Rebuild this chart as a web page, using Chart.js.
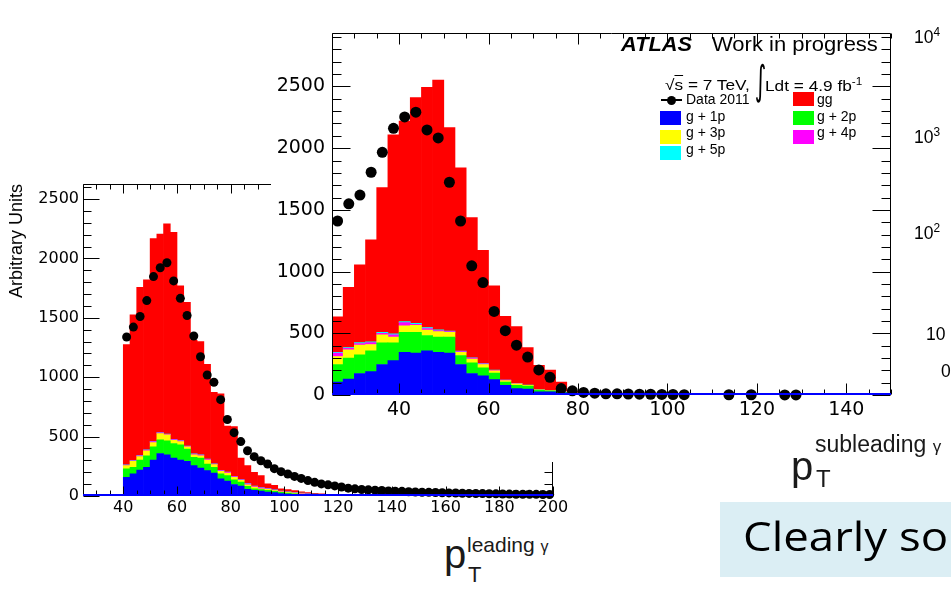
<!DOCTYPE html>
<html><head><meta charset="utf-8">
<script src="https://cdn.jsdelivr.net/npm/chart.js@4.4.0/dist/chart.umd.min.js"></script>
<style>
html,body{margin:0;padding:0;background:#fff;width:951px;height:590px;overflow:hidden;font-family:"Liberation Sans",Arial,sans-serif;}
#wrapL{position:absolute;left:0;top:170px;width:575px;height:350px;}
#wrapR{position:absolute;left:271px;top:15px;width:634px;height:447px;background:#fff;}
.t{position:absolute;white-space:nowrap;color:#000;line-height:1;}
.sx{transform-origin:left center;}
.box{position:absolute;width:21px;height:14px;}
.sup{font-size:0.68em;vertical-align:0.6em;}
</style></head><body>
<div id="wrapL"><canvas id="cL" width="575" height="350"></canvas></div>
<div id="wrapR"><canvas id="cR" width="634" height="447"></canvas></div>

<div class="t" style="left:15.5px;top:241px;font-size:18px;transform:translate(-50%,-50%) rotate(-90deg);">Arbitrary Units</div>

<div class="t" style="left:444px;top:534px;font-size:40px;color:#1a1a1a;">p</div>
<div class="t" style="left:468px;top:564px;font-size:22px;color:#1a1a1a;">T</div>
<div class="t" style="left:467px;top:534px;font-size:21px;color:#1a1a1a;">leading <span style="font-size:16px">γ</span></div>

<div class="t" style="left:791px;top:446px;font-size:40px;color:#1a1a1a;">p</div>
<div class="t" style="left:816px;top:467px;font-size:24px;color:#1a1a1a;">T</div>
<div class="t" style="left:815px;top:433px;font-size:23px;color:#1a1a1a;">subleading <span style="font-size:17px">γ</span></div>

<div class="t sx" style="left:621px;top:34px;font-size:20px;font-weight:bold;font-style:italic;transform:scaleX(1.09);">ATLAS</div>
<div class="t sx" style="left:712px;top:34px;font-size:20px;transform:scaleX(1.1);">Work in progress</div>
<div class="t sx" style="left:665px;top:77px;font-size:15px;transform:scaleX(1.15);">√<span style="text-decoration:overline">s</span> = 7 TeV,</div>
<div class="t" style="left:750px;top:60px;font-size:40px;font-family:'DejaVu Sans';transform:scaleX(0.55);">∫</div>
<div class="t sx" style="left:765px;top:77px;font-size:15px;transform:scaleX(1.15);">Ldt = 4.9 fb<span class="sup">-1</span></div>

<div style="position:absolute;left:661px;top:99px;width:21px;height:2px;background:#000;"></div>
<div style="position:absolute;left:667px;top:95.5px;width:9px;height:9px;border-radius:50%;background:#000;"></div>
<div class="t" style="left:686px;top:92px;font-size:14px;">Data 2011</div>
<div class="box" style="left:793px;top:92px;background:#ff0000;"></div>
<div class="t" style="left:817px;top:92px;font-size:14px;">gg</div>
<div class="box" style="left:660px;top:111px;background:#0000ff;"></div>
<div class="t" style="left:686px;top:108.5px;font-size:14px;">g + 1p</div>
<div class="box" style="left:793px;top:111px;background:#00ff00;"></div>
<div class="t" style="left:817px;top:108.5px;font-size:14px;">g + 2p</div>
<div class="box" style="left:660px;top:129.5px;background:#ffff00;"></div>
<div class="t" style="left:686px;top:125px;font-size:14px;">g + 3p</div>
<div class="box" style="left:793px;top:129.5px;background:#ff00ff;"></div>
<div class="t" style="left:817px;top:125px;font-size:14px;">g + 4p</div>
<div class="box" style="left:660px;top:146px;background:#00ffff;"></div>
<div class="t" style="left:686px;top:141.5px;font-size:14px;">g + 5p</div>

<div class="t" style="left:914px;top:27px;font-size:17.5px;">10<span class="sup">4</span></div>
<div class="t" style="left:914px;top:126.5px;font-size:17.5px;">10<span class="sup">3</span></div>
<div class="t" style="left:914px;top:222.5px;font-size:17.5px;">10<span class="sup">2</span></div>
<div class="t" style="left:926px;top:325.5px;font-size:17.5px;">10</div>
<div class="t" style="left:941px;top:362.5px;font-size:17.5px;">0</div>

<div style="position:absolute;left:720px;top:502px;width:240px;height:75px;background:#dbeef4;"></div>
<div class="t sx" style="left:743px;top:516px;font-size:40px;font-family:'Open Sans';transform:scaleX(1.14);">Clearly so</div>

<script>
// ---------- leading photon (left histogram) ----------
const leadBins = [41.25,43.75,46.25,48.75,51.25,53.75,56.25,58.75,61.25,63.75,66.25,68.75,71.25,73.75,76.25,78.75,81.25,83.75,86.25,88.75,91.25,93.75,96.25,98.75,101.25,103.75,106.25,108.75,111.25,113.75,116.25,118.75,121.25,123.75,126.25,128.75];
const leadG1p = [158,186,219,242,303,358,347,319,303,292,256,236,214,192,144,125,97,83,56,47,42,33,28,20,16,13,10,8,6,5,4,3,2,2,1,1];
const leadG2p = [70,56,84,97,111,114,117,123,128,102,69,83,55,50,42,47,39,34,25,14,11,14,11,10,8,6,5,4,4,3,2,2,2,1,1,1];
const leadG3p = [28,50,28,42,36,53,50,27,27,20,22,20,34,22,22,22,22,14,13,14,8,9,7,6,6,5,4,3,2,2,2,1,1,1,1,0];
const leadG4p = [5,5,8,5,8,6,5,6,6,5,6,5,5,5,6,6,6,5,9,6,8,5,4,4,3,3,3,2,2,1,1,1,1,1,0,0];
const leadG5p = [2,2,2,2,2,2,2,2,2,2,2,2,2,2,2,2,2,2,2,2,2,2,2,2,2,2,2,2,2,2,2,1,1,1,1,1];
const leadGG  = [1012,1226,1415,1432,1707,1673,1771,1743,1304,1210,956,954,798,601,644,387,419,181,151,117,101,40,37,19,20,16,12,9,6,5,3,3,2,1,1,1];
const leadDataX = [41.25,43.75,46.25,48.75,51.25,53.75,56.25,58.75,61.25,63.75,66.25,68.75,71.25,73.75,76.25,78.75,81.25,83.75,86.25,88.75,91.25,93.75,96.25,98.75,101.25,103.75,106.25,108.75,111.25,113.75,116.25,118.75,121.25,123.75,126.25,128.75,131.25,133.75,136.25,138.75,141.25,143.75,146.25,148.75,151.25,153.75,156.25,158.75,161.25,163.75,166.25,168.75,171.25,173.75,176.25,178.75,181.25,183.75,186.25,188.75,191.25,193.75,196.25,198.75];
const leadDataY = [1339,1422,1511,1645,1847,1922,1964,1811,1664,1520,1347,1172,1019,958,811,644,533,458,381,331,297,269,230,205,185,165,148,130,115,102,94,85,76,66,60,55,52,49,46,43,41,39,36,34,32,31,29,27,26,25,23,22,21,20,19,18,17,16,15,15,14,14,13,13];
const leadXTicks = [40,60,80,100,120,140,160,180,200];
const leadYTicks = [0,500,1000,1500,2000,2500];

// ---------- subleading photon (right histogram) ----------
const subBins = [26.25,28.75,31.25,33.75,36.25,38.75,41.25,43.75,46.25,48.75,51.25,53.75,56.25,58.75,61.25,63.75,66.25,68.75,71.25,73.75,76.25,78.75,81.25,83.75];
const subG1p = [104,130,174,190,247,279,346,339,357,346,339,247,174,156,125,78,52,47,26,26,18,10,5,3];
const subG2p = [143,170,152,167,175,143,162,169,125,123,130,73,86,65,52,26,26,26,13,8,3,3,1,1];
const subG3p = [65,65,78,52,65,47,52,57,44,44,39,26,32,26,18,13,13,5,3,2,5,2,1,0];
const subG4p = [27,13,13,16,13,18,26,8,13,8,5,6,8,6,5,3,2,1,1,1,1,0,0,0];
const subG5p = [7,7,7,5,8,8,8,8,8,8,5,3,2,2,2,1,1,1,0,0,0,0,0,0];
const subGG  = [287,487,631,828,1172,1614,1625,1828,1945,2023,1649,1486,1135,917,683,517,461,305,197,164,77,15,5,2];
const subDataX = [26.25,28.75,31.25,33.75,36.25,38.75,41.25,43.75,46.25,48.75,51.25,53.75,56.25,58.75,61.25,63.75,66.25,68.75,71.25,73.75,76.25,78.75,81.25,83.75,86.25,88.75,91.25,93.75,96.25,98.75,101.25,103.75,113.75,118.75,126.25,128.75];
const subDataY = [1410,1549,1620,1805,1966,2161,2253,2292,2148,2083,1724,1410,1047,911,677,521,404,307,203,143,52,34,21,15,10,10,8,7,6,5,4,3,2,2,1,1];
const subXTicks = [40,60,80,100,120,140];
const subYTicks = [0,500,1000,1500,2000,2500];

const compColors = ['#0000ff','#00ff00','#ffff00','#ff00ff','#00ffff','#ff0000'];
const compNames = ['g + 1p','g + 2p','g + 3p','g + 4p','g + 5p','gg'];

Chart.defaults.font.family = "'DejaVu Sans', 'Liberation Sans', sans-serif";
Chart.defaults.color = '#000';

const rootFrame = {
  id: 'rootFrame',
  afterDatasetsDraw(chart, args, o) {
    const {ctx, chartArea: a, scales: {x, y}} = chart;
    ctx.save();
    ctx.strokeStyle = '#000'; ctx.lineWidth = 1;
    const L = Math.round(a.left) + 0.5, R = Math.round(a.right) - 0.5, T = Math.round(a.top) + 0.5, B = Math.round(a.bottom) - 0.5;
    ctx.beginPath();
    ctx.moveTo(L, B); ctx.lineTo(L, T); ctx.lineTo(R, T); ctx.lineTo(R, B);
    for (let v = x.min; v <= x.max + 1e-6; v += o.xMinor) {
      const px = Math.round(x.getPixelForValue(v)) + 0.5;
      const len = (Math.abs(v % o.xMajor) < 1e-6) ? o.xMajorLen : o.xMinorLen;
      ctx.moveTo(px, B); ctx.lineTo(px, B - len);
      ctx.moveTo(px, T); ctx.lineTo(px, T + len);
    }
    for (let v = 0; v <= y.max + 1e-6; v += o.yMinor) {
      const py = Math.round(y.getPixelForValue(v)) + 0.5;
      const len = (v % o.yMajor === 0) ? o.yMajorLen : o.yMinorLen;
      ctx.moveTo(L, py); ctx.lineTo(L + len, py);
      ctx.moveTo(R, py); ctx.lineTo(R - len, py);
    }
    ctx.stroke();
    ctx.strokeStyle = '#0000ff'; ctx.lineWidth = 2;
    ctx.beginPath(); ctx.moveTo(a.left, a.bottom - 1); ctx.lineTo(a.right, a.bottom - 1); ctx.stroke();
    ctx.restore();
  }
};

function makeChart(id, c) {
  const comps = [c.g1p, c.g2p, c.g3p, c.g4p, c.g5p, c.gg];
  const datasets = comps.map((vals, k) => ({
    type: 'bar', label: compNames[k],
    data: c.bins.map((b, i) => ({x: b, y: vals[i]})),
    backgroundColor: compColors[k], borderWidth: 0, stack: 'mc',
    barPercentage: 1, categoryPercentage: 1, order: 1
  }));
  datasets.push({
    type: 'scatter', label: 'Data 2011',
    data: c.dataX.map((xv, i) => ({x: xv, y: c.dataY[i]})),
    backgroundColor: '#000', borderWidth: 0, pointRadius: c.r, stack: 'data', order: 0, clip: false
  });
  return new Chart(document.getElementById(id), {
    type: 'bar',
    data: {datasets},
    options: {
      responsive: false, animation: false, events: [],
      layout: {padding: c.pad},
      plugins: {legend: {display: false}, tooltip: {enabled: false}, rootFrame: c.frame},
      scales: {
        x: {
          type: 'linear', min: c.xmin, max: c.xmax, offset: false, stacked: true,
          grid: {display: false, drawTicks: false}, border: {display: false},
          afterBuildTicks: s => { s.ticks = c.xTicks.map(v => ({value: v})); },
          afterFit: s => { s.height = c.xH; },
          ticks: {autoSkip: false, maxRotation: 0, padding: c.xPad, font: {size: c.fs}, callback: v => String(v)}
        },
        y: {
          type: 'linear', min: 0, max: c.ymax, stacked: true,
          grid: {display: false, drawTicks: false}, border: {display: false},
          afterBuildTicks: s => { s.ticks = c.yTicks.map(v => ({value: v})); },
          afterFit: s => { s.width = c.yW; },
          ticks: {padding: c.yPad, font: {size: c.fs}, callback: v => String(v)}
        }
      }
    },
    plugins: [rootFrame]
  });
}

makeChart('cL', {
  bins: leadBins, g1p: leadG1p, g2p: leadG2p, g3p: leadG3p, g4p: leadG4p, g5p: leadG5p, gg: leadGG,
  dataX: leadDataX, dataY: leadDataY, xTicks: leadXTicks, yTicks: leadYTicks,
  xmin: 25, xmax: 200, ymax: 2630, r: 4.5, fs: 16,
  pad: {left: 0, top: 10, right: 22, bottom: 0}, xH: 24, yW: 83, xPad: 2, yPad: 4,
  frame: {xMinor: 5, xMajor: 20, xMajorLen: 9, xMinorLen: 5, yMinor: 100, yMajor: 500, yMajorLen: 16, yMinorLen: 8}
});
makeChart('cR', {
  bins: subBins, g1p: subG1p, g2p: subG2p, g3p: subG3p, g4p: subG4p, g5p: subG5p, gg: subGG,
  dataX: subDataX, dataY: subDataY, xTicks: subXTicks, yTicks: subYTicks,
  xmin: 25, xmax: 150, ymax: 2930, r: 5.5, fs: 19,
  pad: {left: 0, top: 5, right: 14, bottom: 0}, xH: 67, yW: 61, xPad: 4, yPad: 7,
  frame: {xMinor: 5, xMajor: 20, xMajorLen: 11, xMinorLen: 5, yMinor: 100, yMajor: 500, yMajorLen: 18, yMinorLen: 9}
});
</script>
</body></html>
